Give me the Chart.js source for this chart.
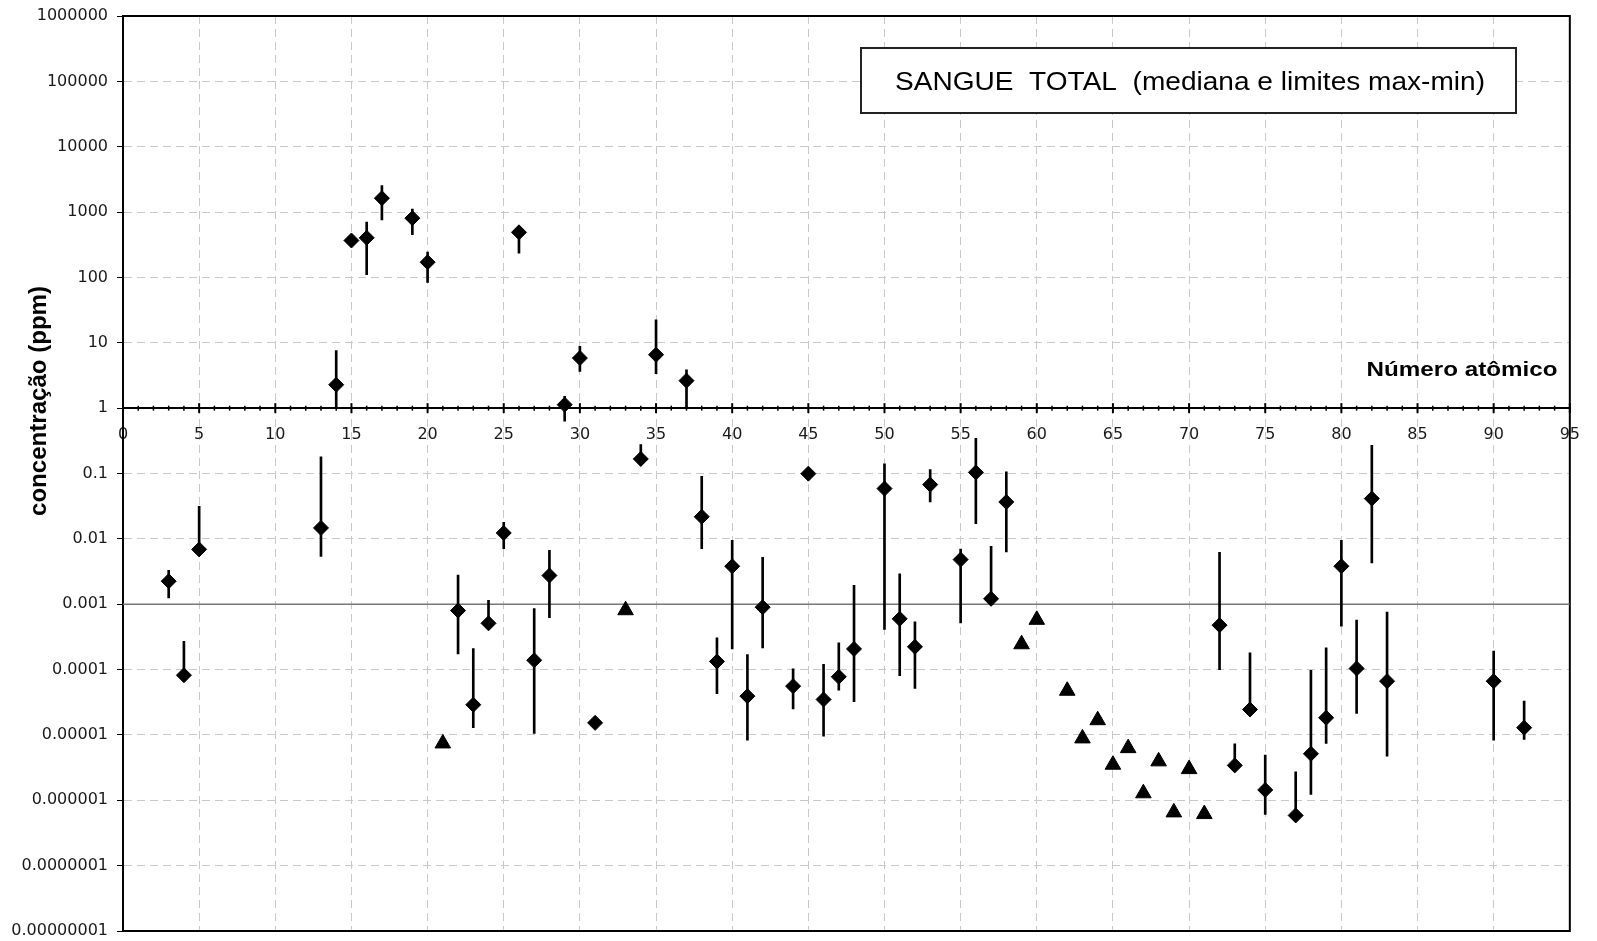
<!DOCTYPE html>
<html>
<head>
<meta charset="utf-8">
<script src="https://cdn.jsdelivr.net/npm/chart.js@4.4.0/dist/chart.umd.min.js"></script>
<style>
  html, body { margin: 0; padding: 0; background: #ffffff; }
  #wrap { width: 1597px; height: 941px; position: relative; }
</style>
</head>
<body>
<div id="wrap"><canvas id="c"></canvas></div>
<script>
// ---------------- DATA ----------------
// Atomic numbers of elements with median + max/min (diamonds with bars)
const medianZ = [3, 4, 5, 13, 14, 15, 16, 17, 19, 20, 22, 23, 24, 25, 26, 27, 28, 29, 30, 31,
  34, 35, 37, 38, 39, 40, 41, 42, 44, 45, 46, 47, 48, 50, 51, 52, 53, 55, 56, 57, 58,
  72, 73, 74, 75, 77, 78, 79, 80, 81, 82, 83, 90, 92];
const medianVal = [0.00225, 0.000082, 0.0069, 0.0147, 2.28, 367, 404, 1630, 807, 171,
  0.0008, 0.000029, 0.00051, 0.0123, 490, 0.000139, 0.00275, 1.13, 5.84, 0.0000153,
  0.167, 6.57, 2.63, 0.0218, 0.000133, 0.00381, 0.0000392, 0.0009, 0.0000558, 0.0995,
  0.0000349, 0.0000775, 0.000207, 0.0588, 0.000597, 0.000223, 0.0676, 0.00482, 0.104, 0.00121, 0.0367,
  0.000478, 0.00000342, 0.0000245, 0.00000144, 0.000000587, 0.00000515, 0.0000183, 0.00381, 0.000104,
  0.0413, 0.0000665, 0.0000665, 0.0000129];
const minVal = [0.00125, 0.000075, 0.0057, 0.0054, 1.0, 330, 110, 760, 450, 84,
  0.000174, 0.0000129, 0.00041, 0.0071, 236, 0.0000105, 0.00062, 0.63, 3.65, 0.0000153,
  0.15, 3.36, 1.0, 0.0071, 0.0000426, 0.000207, 0.0000083, 0.000215, 0.0000251, 0.0995,
  0.0000096, 0.0000484, 0.0000322, 0.00041, 0.000081, 0.0000514, 0.0367, 0.000519, 0.0171, 0.00105, 0.0063,
  0.0001, 0.000003, 0.00002, 0.00000061, 0.00000052, 0.00000123, 0.0000074, 0.00046, 0.0000213,
  0.00428, 0.00000474, 0.0000083, 0.0000085];
const maxVal = [0.0033, 0.00027, 0.0315, 0.18, 7.6, 400, 700, 2550, 1110, 244,
  0.0028, 0.00021, 0.00115, 0.0179, 590, 0.00086, 0.0067, 1.51, 8.8, 0.0000153,
  0.276, 22.5, 3.87, 0.0906, 0.000306, 0.0095, 0.00017, 0.0052, 0.000103, 0.0995,
  0.00012, 0.000257, 0.00195, 0.14, 0.00291, 0.000537, 0.1146, 0.007, 0.345, 0.0077, 0.1057,
  0.0062, 0.0000073, 0.000181, 0.0000049, 0.00000273, 0.000097, 0.000215, 0.0095, 0.00057,
  0.27, 0.000755, 0.000191, 0.0000329];
// Single values (triangles)
const triZ = [21, 33, 59, 60, 62, 63, 64, 65, 66, 67, 68, 69, 70, 71];
const triVal = [0.00000741, 0.000809, 0.000244, 0.000577, 0.0000474, 0.00000885, 0.0000168,
  0.0000035, 0.00000628, 0.00000128, 0.00000394, 0.000000653, 0.000003, 0.000000615];
// Axes
const xRange = [0, 95];
const xStep = 5;
const yTickValues = [1e6, 1e5, 1e4, 1e3, 1e2, 10, 1, 0.1, 0.01, 0.001, 1e-4, 1e-5, 1e-6, 1e-7, 1e-8];
const xAxisCrossY = 1;
const refLineY = 0.001;
// Texts
const chartTitle = 'SANGUE  TOTAL  (mediana e limites max-min)';
const xTitle = 'Número atômico';
const yTitle = 'concentração (ppm)';

// ---------------- HELPERS ----------------
function fmtTick(v) {
  if (v >= 1) return String(Math.round(v));
  const d = Math.round(-Math.log10(v));
  return v.toFixed(d);
}
function fittedText(ctx, text, font, cx, cy, targetW, align, baseline, rot) {
  ctx.save();
  ctx.font = font;
  const w = ctx.measureText(text).width;
  const s = targetW / w;
  ctx.translate(cx, cy);
  if (rot) ctx.rotate(rot);
  ctx.scale(s, 1);
  ctx.textAlign = align || 'center';
  ctx.textBaseline = baseline || 'middle';
  ctx.fillStyle = '#000';
  ctx.fillText(text, 0, 0);
  ctx.restore();
}

const decor = {
  id: 'decor',
  beforeDraw(chart) {
    const ctx = chart.ctx;
    ctx.save();
    ctx.fillStyle = '#fff';
    ctx.fillRect(0, 0, chart.width, chart.height);
    ctx.restore();
  },
  beforeDatasetsDraw(chart) {
    const { ctx, chartArea: a, scales: { x, y } } = chart;
    ctx.save();
    ctx.strokeStyle = '#000';
    ctx.lineWidth = 2;
    ctx.strokeRect(a.left, a.top, a.right - a.left, a.bottom - a.top);
    // tick marks on the x axis placed at y = 1
    const y0 = y.getPixelForValue(xAxisCrossY);
    for (let v = xRange[0]; v <= xRange[1]; v++) {
      const px = x.getPixelForValue(v);
      const major = v % xStep === 0;
      const h = major ? 5 : 2.5;
      ctx.lineWidth = major ? 2 : 1.5;
      ctx.beginPath();
      ctx.moveTo(px, y0 - h);
      ctx.lineTo(px, y0 + h);
      ctx.stroke();
    }
    ctx.restore();
  },
  afterDraw(chart) {
    const { ctx, scales: { y } } = chart;
    // title box
    const bx = 861, by = 48, bw = 655, bh = 65;
    ctx.save();
    ctx.fillStyle = '#fff';
    ctx.fillRect(bx, by, bw, bh);
    ctx.strokeStyle = '#222';
    ctx.lineWidth = 2;
    ctx.strokeRect(bx, by, bw, bh);
    ctx.restore();
    fittedText(ctx, chartTitle, '26px "Liberation Sans", Arial, sans-serif', 1190, 90, 590, 'center', 'alphabetic');
    // x axis label
    const y0 = y.getPixelForValue(xAxisCrossY);
    fittedText(ctx, xTitle, 'bold 21px "Liberation Sans", Arial, sans-serif', 1462, y0 - 32, 191, 'center', 'alphabetic');
    // y axis title
    fittedText(ctx, yTitle, 'bold 24px "Liberation Sans", Arial, sans-serif', 39, 401, 230, 'center', 'middle', -Math.PI / 2);
  }
};

const gridColor = '#c9c9c9';
const tickFont = { family: '"DejaVu Sans", sans-serif', size: 16 };

new Chart(document.getElementById('c'), {
  type: 'scatter',
  data: {
    datasets: [
      {
        type: 'scatter',
        label: 'mediana',
        data: medianZ.map((z, i) => ({ x: z, y: medianVal[i] })),
        pointStyle: 'rectRot',
        pointRadius: 7.5,
        pointBackgroundColor: '#000',
        pointBorderColor: '#000',
        pointBorderWidth: 1,
        order: 0
      },
      {
        type: 'scatter',
        label: 'valor',
        data: triZ.map((z, i) => ({ x: z, y: triVal[i] })),
        pointStyle: 'triangle',
        pointRadius: 9,
        pointBackgroundColor: '#000',
        pointBorderColor: '#000',
        pointBorderWidth: 1,
        order: 0
      },
      {
        type: 'bar',
        label: 'max-min',
        data: medianZ.map((z, i) => ({ x: z, y: [minVal[i], maxVal[i]] })),
        backgroundColor: '#000',
        borderWidth: 0,
        barThickness: 2,
        order: 1
      },
      {
        type: 'line',
        label: 'ref',
        data: [{ x: xRange[0], y: refLineY }, { x: xRange[1], y: refLineY }],
        borderColor: '#777',
        borderWidth: 1.5,
        pointRadius: 0,
        fill: false,
        order: 2
      }
    ]
  },
  options: {
    responsive: true,
    maintainAspectRatio: false,
    animation: false,
    events: [],
    layout: { padding: { left: 0, top: 16, right: 14, bottom: 9.5 } },
    plugins: { legend: { display: false }, tooltip: { enabled: false }, title: { display: false } },
    scales: {
      x: {
        type: 'linear',
        min: xRange[0],
        max: xRange[1],
        position: { y: xAxisCrossY },
        offset: false,
        grid: { display: true, color: gridColor, lineWidth: 1, drawTicks: false, offset: false },
        border: { display: true, color: '#000', width: 2, dash: [8, 5] },
        ticks: {
          stepSize: xStep,
          autoSkip: false,
          maxRotation: 0,
          padding: 17,
          color: '#1a1a1a',
          font: tickFont
        }
      },
      y: {
        type: 'logarithmic',
        min: yTickValues[yTickValues.length - 1],
        max: yTickValues[0],
        position: 'left',
        afterBuildTicks(scale) { scale.ticks = yTickValues.slice().reverse().map(v => ({ value: v })); },
        afterFit(scale) { scale.width = 123; scale.paddingTop = 0; scale.paddingBottom = 0; },
        grid: { display: true, color: gridColor, lineWidth: 1, drawTicks: true, tickLength: 6,
                tickColor: '#000', tickWidth: 1, tickBorderDash: [] },
        border: { display: true, color: '#000', width: 2, dash: [8, 5] },
        ticks: {
          autoSkip: false,
          padding: 9,
          color: '#1a1a1a',
          font: tickFont,
          callback: (v) => fmtTick(v)
        }
      }
    }
  },
  plugins: [decor]
});
</script>
</body>
</html>
